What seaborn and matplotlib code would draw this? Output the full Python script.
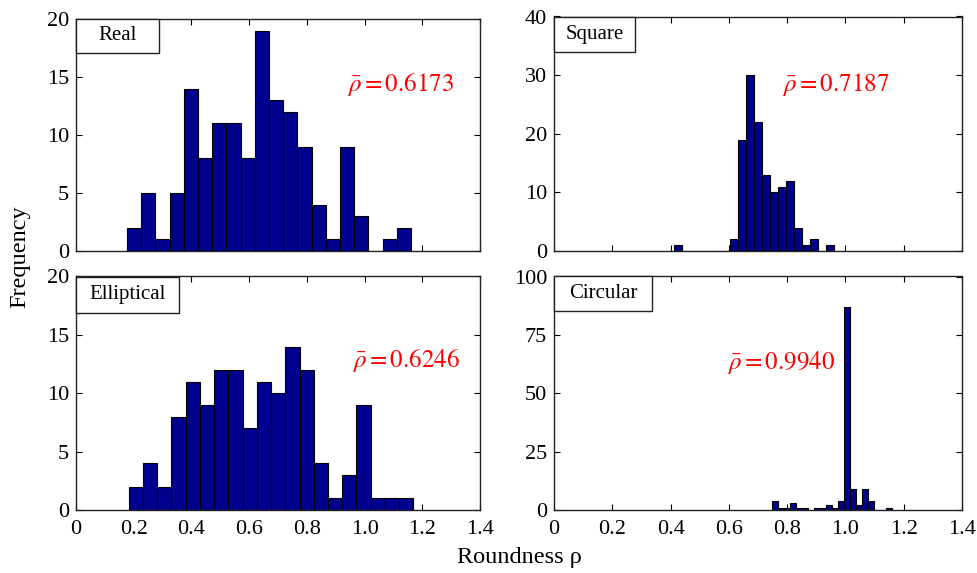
import numpy as np
import pandas as pd
import matplotlib
matplotlib.use("Agg")
import matplotlib.pyplot as plt
from matplotlib.patches import Rectangle
import seaborn as sns

# ---------------- data ----------------
real_counts = [2, 5, 1, 5, 14, 8, 11, 11, 8, 19, 13, 12, 9, 4, 1, 9, 3, 0, 1, 2]
real_start, real_width = 0.177, 0.0492

square_counts = [1, 0, 0, 0, 0, 0, 0, 2, 19, 30, 22, 13, 10, 11, 12, 4, 1, 2, 0, 1]
square_start, square_width = 0.412, 0.0274

elliptical_counts = [2, 4, 2, 8, 11, 9, 12, 12, 7, 11, 10, 14, 12, 4, 1, 3, 9, 1, 1, 1]
elliptical_start, elliptical_width = 0.183, 0.0493

circular_counts = [4, 1, 1, 3, 1, 1, 0, 1, 1, 2, 1, 4, 87, 9, 2, 9, 4, 0, 0, 1]
circular_start, circular_width = 0.747, 0.0206

panel_names = ["Real", "Square", "Elliptical", "Circular"]
mean_labels = ["0.6173", "0.7187", "0.6246", "0.9940"]
y_ticks = [[0, 5, 10, 15, 20], [0, 10, 20, 30, 40],
           [0, 5, 10, 15, 20], [0, 25, 50, 75, 100]]
x_ticks = [0, 0.2, 0.4, 0.6, 0.8, 1.0, 1.2, 1.4]
x_tick_labels = ["0", "0.2", "0.4", "0.6", "0.8", "1.0", "1.2", "1.4"]

# ---------------- styling ----------------
sns.set_theme(style="white")
plt.rcParams["font.family"] = ["Liberation Serif", "DejaVu Serif"]
plt.rcParams["mathtext.fontset"] = "stix"

W, H = 977, 573
fig = plt.figure(figsize=(W / 100, H / 100), dpi=100)

# axes rectangles in pixels: left, top, right, bottom
rects_px = [(76, 19, 480, 251), (554, 16.5, 962, 251),
            (76, 276.5, 480, 510), (554, 276.5, 962, 510)]
box_px = [(83, 34), (81, 35), (103, 36), (98, 35)]
ann_pos = [(0.670, 0.716), (0.560, 0.708), (0.684, 0.642), (0.425, 0.630)]

series = [(real_counts, real_start, real_width),
          (square_counts, square_start, square_width),
          (elliptical_counts, elliptical_start, elliptical_width),
          (circular_counts, circular_start, circular_width)]

navy = "#00008F"

for i, ((counts, start, width), (l, t, r, b)) in enumerate(zip(series, rects_px)):
    ax = fig.add_axes([l / W, (H - b) / H, (r - l) / W, (b - t) / H])
    n = len(counts)
    edges = start + width * np.arange(n + 1)
    centers = (edges[:-1] + edges[1:]) / 2
    df = pd.DataFrame({"x": centers, "w": np.asarray(counts, dtype=float)})
    sns.histplot(data=df, x="x", weights="w", bins=[float(e) for e in edges], ax=ax,
                 color=navy, edgecolor="black", linewidth=0.8, alpha=1.0,
                 stat="count")
    ax.set_xlim(0, 1.4)
    yt = y_ticks[i]
    ax.set_ylim(yt[0], yt[-1])
    ax.set_yticks(yt)
    ax.set_xticks(x_ticks)
    if i >= 2:
        ax.set_xticklabels(x_tick_labels)
    else:
        ax.set_xticklabels([])
    ax.set_xlabel("")
    ax.set_ylabel("")
    ax.tick_params(direction="in", length=4.5, width=0.8, top=True, right=True,
                   bottom=True, left=True, labelsize=16, pad=5, colors="black")
    ax.tick_params(axis="x", pad=7)
    for s in ax.spines.values():
        s.set_visible(True)
        s.set_color("#222222")
        s.set_linewidth(1.0)
    ax.grid(False)

    # label box in upper-left corner
    bw, bh = box_px[i]
    axw, axh = r - l, b - t
    ax.add_patch(Rectangle((0, 1 - bh / axh), bw / axw, bh / axh,
                           transform=ax.transAxes, facecolor="white",
                           edgecolor="#222222", linewidth=1.0, zorder=5,
                           clip_on=False))
    ax.text(bw / axw / 2, 1 - bh / axh / 2, panel_names[i], transform=ax.transAxes,
            ha="center", va="center", fontsize=15, color="black", zorder=6)

    # mean annotation
    ax.text(ann_pos[i][0], ann_pos[i][1], r"$\bar{\rho} = $" + r"$" + mean_labels[i] + r"$",
            transform=ax.transAxes, ha="left", va="center", fontsize=18,
            color="#FF0000", zorder=6)

fig.text(20 / W, 1 - 257 / H, "Frequency", rotation=90, ha="center", va="center",
         fontsize=17.5, color="black")
fig.text(519 / W, 1 - 557 / H, "Roundness ρ", ha="center", va="center",
         fontsize=17.5, color="black")

fig.savefig("out.png", dpi=100)
